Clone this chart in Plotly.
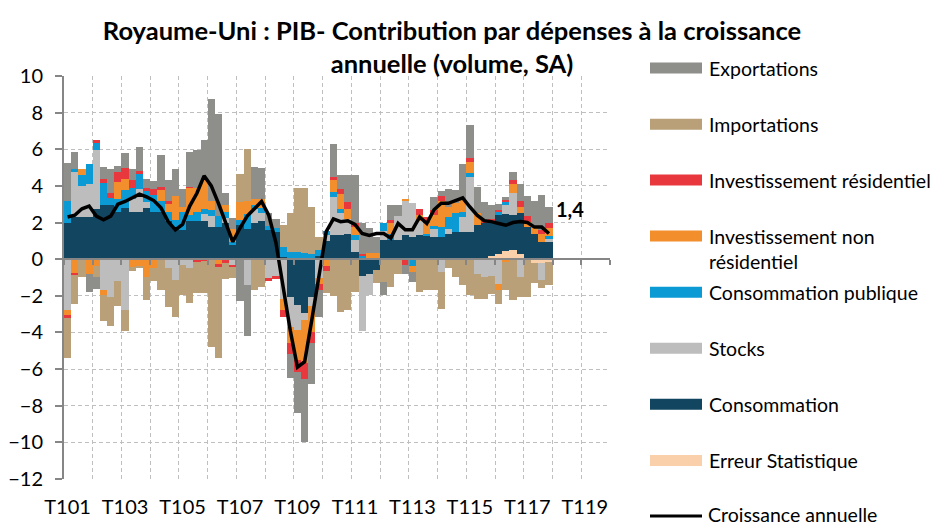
import plotly.graph_objects as go

# ---------------- data ----------------
years = list(range(2001, 2020))
axis_quarters = [f"T{q}{y % 100:02d}" for y in years for q in range(1, 5)]
quarters = axis_quarters[:68]          # T101 ... T417 (data)
tick_labels = axis_quarters[::8]       # T101, T103, ..., T119

croissance = [2.3, 2.4, 2.75, 2.9, 2.35, 2.15, 2.35, 3.0, 3.15, 3.35, 3.55, 3.4,
              3.2, 2.8, 2.05, 1.6, 1.9, 2.9, 3.6, 4.55, 4.0, 3.05, 2.05, 0.95,
              1.7, 2.35, 2.75, 3.15, 2.4, 0.9, -1.5, -3.9, -5.9, -5.6, -3.3, -0.8,
              1.5, 2.2, 2.05, 2.1, 1.9, 1.4, 1.3, 1.4, 1.4, 1.15, 1.95, 1.6,
              1.6, 2.3, 1.95, 2.7, 3.05, 3.05, 3.2, 3.35, 2.85, 2.4, 2.1, 2.05,
              1.95, 1.85, 2.0, 2.05, 2.0, 1.75, 1.75, 1.4]

erreur = [0]*59 + [0.2, 0.3, 0.45, 0.5, 0.3, 0.0, -0.2, -0.2, -0.15]

consommation = [2.0, 2.3, 2.3, 2.3, 2.75, 2.95, 2.95, 2.6, 2.8, 2.6, 2.55, 2.8,
                2.6, 2.6, 2.1, 1.75, 1.6, 2.1, 2.1, 2.1, 1.75, 1.75, 1.95, 0.76,
                1.85, 1.65, 2.0, 2.1, 1.6, 1.5, 0.1, -2.05, -2.5, -2.95, -2.05, 0.2,
                1.0, 1.3, 1.3, 1.4, 0.4, -0.9, -0.8, -0.6, 1.05, 1.05, 1.05, 1.3,
                1.2, 1.3, 1.3, 1.2, 1.2, 1.4, 1.5, 1.5, 1.5, 1.85, 1.95, 1.85,
                2.1, 2.0, 1.9, 2.2, 1.75, 1.35, 0.95, 0.95]

stocks = [-2.75, 2.45, 1.7, 1.8, 3.2, -1.7, -2.05, -1.2, -2.75, 0.7, 1.3, 0.3,
          0.0, 0.0, -0.5, -1.15, -0.3, -0.5, 0.0, 0.35, 0.6, 0.0, 0.3, -0.3,
          0.0, -1.4, 0.75, 0.4, -1.0, -0.9, -2.2, -1.65, -1.35, -0.35, -0.5, -1.0,
          0.3, 2.1, 1.2, 0.8, 0.65, -3.0, -1.15, 0.0, 0.5, 0.0, 1.3, 1.9,
          1.85, 0.8, 0.0, 0.5, -0.7, 0.27, 0.0, 0.8, 3.0, -0.8, -0.95, -0.9,
          -1.35, 0.5, 1.2, -0.95, 0.0, 0.0, -0.95, 0.2]

conso_publique = [1.15, 0.2, 0.6, 1.1, 0.4, 1.2, 0.4, 0.7, 1.0, 0.6, 0.8, 0.6,
                  0.9, 0.55, 0.45, 0.4, 1.0, 0.3, 0.5, 0.3, 0.35, 0.6, 0.3, 0.2,
                  0.3, 0.8, 0.2, 0.3, 0.2, 0.2, 0.55, 0.4, 0.4, 0.35, 0.3, 0.3,
                  0.25, 0.27, 0.25, 0.0, 0.27, 0.2, 0.0, 0.0, 0.45, 0.3, 0.0, 0.0,
                  -0.35, 0.0, 0.1, 0.1, 0.55, 0.65, 1.0, 0.27, 0.18, 0.0, 0.0, 0.0,
                  0.2, 0.2, 0.0, 0.0, -0.05, 0.0, 0.0, 0.1]

inv_non_res = [-0.35, -0.75, 0.35, -0.8, -0.35, -0.25, 0.0, 0.9, 0.6, -0.4, -0.4, -0.95,
               -0.5, 0.6, 0.5, 1.3, 0.25, 1.5, 1.3, 1.55, 0.45, -0.3, 0.4, 0.7,
               0.95, 0.75, 0.35, 0.5, 0.0, 0.0, -0.55, -0.9, -1.65, -2.35, -1.45, -0.35,
               -0.35, 0.64, 0.8, 0.55, 0.45, 0.0, 0.35, 0.35, 0.0, 0.65, 0.0, 0.1,
               -0.35, 0.3, 0.55, 0.6, 1.45, 0.55, 0.55, 0.65, 0.64, 0.65, 0.0, 0.0,
               -0.35, -0.15, 0.5, 0.35, 0.3, 0.35, 0.45, 0.45]

inv_res = [-0.1, -0.13, 0.0, 0.0, 0.15, 0.25, 0.27, 0.55, 0.6, 0.4, 0.15, 0.2,
           0.33, 0.2, 0.1, 0.0, 0.0, 0.05, -0.15, -0.1, 0.0, -0.1, -0.2, -0.15,
           0.0, 0.0, 0.0, 0.0, -0.2, -0.2, -0.4, -0.55, -0.65, -0.9, -0.6, -0.35,
           -0.3, 0.18, 0.3, 0.35, 0.18, 0.1, 0.0, 0.0, 0.0, 0.15, 0.0, -0.3,
           0.0, 0.35, 0.35, 0.3, 0.27, 0.0, 0.0, 0.0, 0.18, 0.0, 0.15, 0.15,
           0.1, 0.1, 0.2, 0.35, 0.3, 0.0, 0.2, 0.27]

importations = [-2.2, -1.55, -0.95, 0.0, -0.6, -1.45, -1.6, -1.35, -1.15, -0.25, -0.1, -1.3,
                -0.7, -1.7, -2.1, -2.0, -1.65, -1.9, -1.7, -1.75, -4.8, -5.0, -0.9, -0.6,
                1.55, 2.8, -1.7, -1.5, 0.0, 0.0, 1.2, 2.1, 3.5, 3.55, 2.55, 0.7,
                -1.2, -2.0, -2.9, -2.8, -1.8, 0.0, 0.0, -0.7, -1.25, -1.5, -0.8, 0.0,
                0.0, -1.8, -1.7, -1.7, -2.0, -0.5, -0.95, -1.4, -1.95, -1.4, -1.2, -1.0,
                -0.75, -1.55, -2.25, -1.1, -2.0, -1.1, -0.45, -1.25]

exportations = [2.1, 0.9, 0.0, -1.0, -0.7, 0.65, 1.3, 0.35, 0.8, 0.6, 1.3, 0.5,
                0.45, 1.75, 1.2, 1.45, 1.0, 1.9, 2.05, 2.2, 5.6, 5.6, 0.65, 0.6,
                -2.3, -2.8, 1.75, 1.7, 0.7, 0.5, 0.0, -1.35, -2.25, -3.45, -2.2, -1.45,
                0.0, 1.8, 0.75, 1.5, 2.65, 1.7, 1.35, 0.85, -0.7, 0.8, 0.6, -0.5,
                -0.55, 0.0, 0.0, 0.7, 0.27, 0.95, 0.75, 2.0, 1.8, 1.45, 1.0, 0.75,
                0.3, 0.15, 0.45, 0.9, 1.1, 1.5, 1.9, 0.9]

# stacking order from zero outwards (legend shows it reversed)
series = [
    ("Erreur Statistique", erreur, "#F9D0AA"),
    ("Consommation", consommation, "#12455F"),
    ("Stocks", stocks, "#BDBDBD"),
    ("Consommation publique", conso_publique, "#0B9AD3"),
    ("Investissement non résidentiel", inv_non_res, "#F28E2B"),
    ("Investissement résidentiel", inv_res, "#E8383D"),
    ("Importations", importations, "#B9A078"),
    ("Exportations", exportations, "#8E8E8A"),
]
line_name = "Croissance annuelle"

# ---------------- figure ----------------
x = list(range(len(quarters)))
fig = go.Figure()
for name, vals, col in series:
    fig.add_bar(x=x, y=vals, name=name, customdata=quarters,
                marker=dict(color=col, line=dict(width=0)),
                hovertemplate="%{customdata}: %{y}<extra>" + name + "</extra>",
                showlegend=False)
fig.add_scatter(x=x, y=croissance, name=line_name, xaxis="x2", mode="lines",
                line=dict(color="black", width=3.5), customdata=quarters,
                hovertemplate="%{customdata}: %{y}<extra>" + line_name + "</extra>",
                showlegend=False)

# last value label
fig.add_annotation(x=x[-1], y=croissance[-1], xref="x2", yref="y",
                   text="<b>" + f"{croissance[-1]:.1f}".replace(".", ",") + "</b>",
                   showarrow=False, xshift=21, yshift=25,
                   font=dict(size=20, family="Lato", color="black"))

# plot area geometry (pixels) used for the hand-placed legend
L, R, T, B = 64, 327, 76, 46
PW, PH = 937 - L - R, 525 - T - B
def px(xp):
    return (xp - L) / PW
def py(yp):
    return (525 - B - yp) / PH

LEG_FONT = 19.5
legend_items = [
    ("Exportations", "#8E8E8A", 68),
    ("Importations", "#B9A078", 124.3),
    ("Investissement résidentiel", "#E8383D", 180),
    ("Investissement non<br>résidentiel", "#F28E2B", 236),
    ("Consommation publique", "#0B9AD3", 292.3),
    ("Stocks", "#BDBDBD", 348.3),
    ("Consommation", "#12455F", 404.3),
    ("Erreur Statistique", "#F9D0AA", 460.5),
]
for label, col, yc in legend_items:
    fig.add_shape(type="rect", xref="paper", yref="paper",
                  x0=px(650), x1=px(702), y0=py(yc + 5.5), y1=py(yc - 5.5),
                  fillcolor=col, line=dict(width=0))
    two = "<br>" in label
    fig.add_annotation(xref="paper", yref="paper", x=px(707),
                       y=py(yc + 12.5) if two else py(yc),
                       xanchor="left", yanchor="middle", align="left",
                       text=label, showarrow=False,
                       font=dict(size=LEG_FONT, family="Lato", color="black"))
ly = 516
fig.add_shape(type="line", xref="paper", yref="paper", x0=px(650), x1=px(702),
              y0=py(ly), y1=py(ly), line=dict(color="black", width=3))
fig.add_annotation(xref="paper", yref="paper", x=px(707), y=py(ly - 1.5),
                   xanchor="left", yanchor="middle", text=line_name,
                   showarrow=False, borderpad=0,
                   font=dict(size=LEG_FONT, family="Lato", color="black"))

grid_col = "#BFBFBF"
axis_col = "#868686"
fig.update_layout(
    width=937, height=525,
    margin=dict(l=L, r=R, t=T, b=B, pad=0, autoexpand=False),
    barmode="relative", bargap=0,
    plot_bgcolor="white", paper_bgcolor="white",
    font=dict(family="Lato", size=20, color="black"),
    showlegend=False,
    title=dict(text="<b>Royaume-Uni : PIB- Contribution par dépenses à la croissance<br>annuelle (volume, SA)</b>",
               x=452 / 937, xanchor="center", y=1 - 40 / 525, yanchor="middle",
               font=dict(size=25.5, family="Lato", color="black")),
    xaxis=dict(range=[-0.5, 75.5], tickvals=list(range(0, 76, 8)), ticktext=tick_labels,
               showgrid=False, zeroline=False, showline=False, ticks="",
               tickfont=dict(size=20), ticklabelstandoff=14, automargin=False),
    xaxis2=dict(overlaying="x", anchor="free", position=12 / 22, range=[-0.5, 75.5],
                tickvals=[i - 0.5 for i in range(0, 77, 4)], showticklabels=False,
                showgrid=True, gridcolor=grid_col, griddash="4px,3px", gridwidth=1,
                showline=True, linecolor=axis_col, linewidth=2,
                ticks="outside", ticklen=5, tickcolor=axis_col, tickwidth=2,
                zeroline=False, layer="above traces", automargin=False),
    yaxis=dict(range=[-12, 10], tickvals=list(range(-12, 11, 2)),
               showgrid=True, gridcolor=grid_col, griddash="4px,3px", gridwidth=1,
               showline=True, linecolor=axis_col, linewidth=2,
               ticks="outside", ticklen=7, tickcolor=axis_col, tickwidth=2,
               zeroline=False, tickfont=dict(size=20), ticklabelstandoff=8,
               automargin=False),
)

fig.write_html("out.html", config={"displayModeBar": False},
               post_script="document.body.style.margin='0';document.body.style.overflow='hidden';")
